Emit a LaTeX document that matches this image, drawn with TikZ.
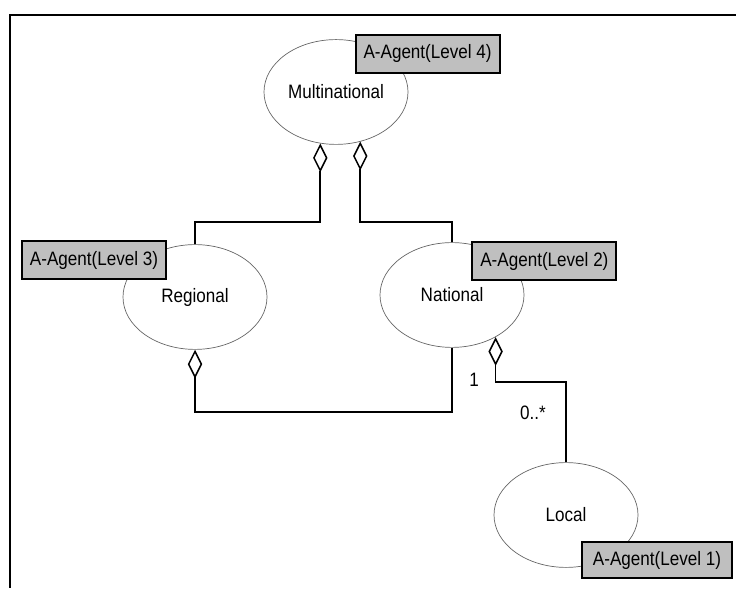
\documentclass[tikz,border=0pt]{standalone}
\usepackage{fontspec}
\setmainfont{Liberation Sans}[FakeStretch=0.88]
\usetikzlibrary{arrows.meta,shapes.geometric}

\tikzset{
  orgunit/.style={ellipse, draw=black!60, line width=0.5pt, minimum width=3.6cm, minimum height=2.62cm, inner sep=0pt},
  agentbox/.style={rectangle, draw=black, line width=1.5pt, fill=black!25, minimum width=3.6cm, minimum height=0.95cm, inner sep=2pt},
  agg/.style={line width=1.1pt, -{Diamond[open, length=0.72cm, width=0.36cm]}},
}

\begin{document}
\begin{tikzpicture}[font=\fontsize{13.8}{16}\selectfont]
        \useasboundingbox (0,0) rectangle (18.4,14.7);
        \draw [line width=2pt] (18.4,14.325) -- (0.25,14.325) -- (0.25,0);
        % levels
        \node [orgunit] (multi) at (8.4,12.4) {Multinational};
        \node [orgunit] (regional) at (4.875,7.275) {Regional};
        \node [orgunit] (national) at (11.3,7.325) {National};
        \node [orgunit] (local) at (14.15,1.825) {Local};
        % agents
        \node [agentbox] (ag4) at (10.69,13.36) {A-Agent(Level 4)};
        \node [agentbox] (ag3) at (2.35,8.2) {A-Agent(Level 3)};
        \node [agentbox] (ag2) at (13.61,8.175) {A-Agent(Level 2)};
        \node [agentbox, minimum width=3.75cm, minimum height=0.9cm] (ag1) at (16.425,0.7) {A-Agent(Level 1)};
        % bends
        \coordinate (top) at (0,9.15);
        \coordinate (low) at (0,4.4);
        \coordinate (mid) at (0,5.15);
        \draw [agg] (regional.north) -- (regional.north |- top) -| (multi.-107);
        \draw [agg] (national.north) -- (national.north |- top) -| (multi.-64);
        \draw [agg] (national.south) -- (national.south |- low) -| (regional.south);
        \draw [agg] (local.north) -- (local.north |- mid) -| (national.-44);
        \node (one) at (11.85,5.2) {1};
        \node (many) at (13.325,4.375) {0..*};
    \end{tikzpicture}
\end{document}
